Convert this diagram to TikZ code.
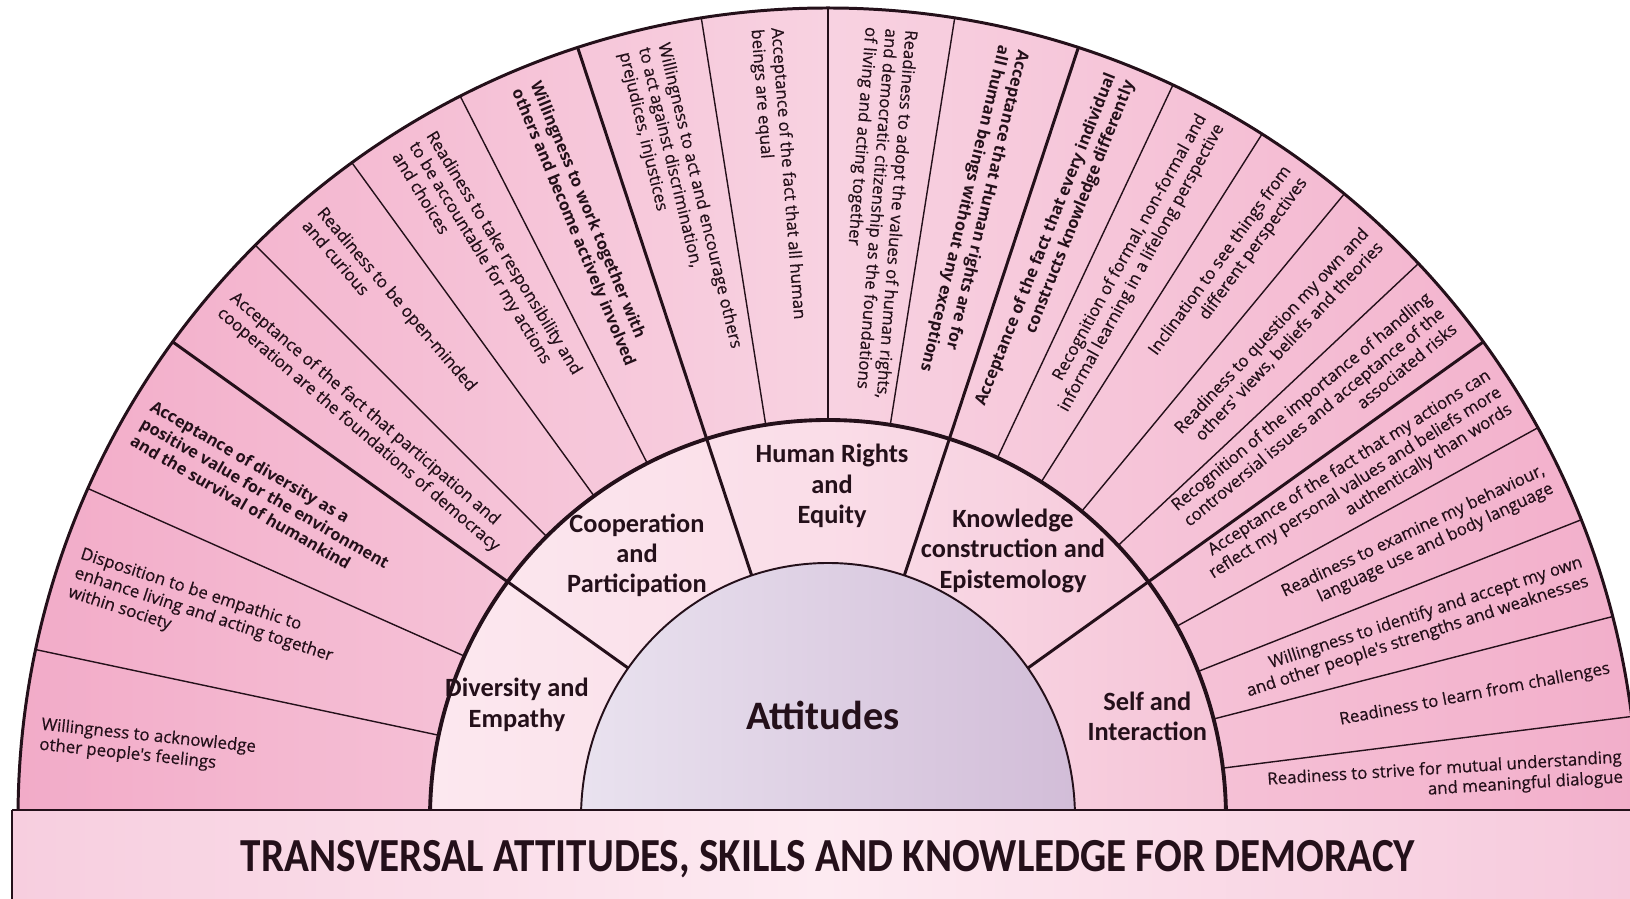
\documentclass[tikz,border=0pt]{standalone}
\usepackage{fontspec}
\setmainfont{Open Sans}
\newfontfamily\labelfont{Carlito}
\newfontfamily\itemfamily[FakeBold=0.5]{Open Sans}
\usepackage[usenames,dvipsnames,svgnames,table]{xcolor}
\usepackage{tikz}

\definecolor{inkdark}{HTML}{24101A}
\definecolor{outerL}{HTML}{F2ABC8}
\definecolor{outerM}{HTML}{F8D2E1}
\definecolor{outerR}{HTML}{F2AECA}
\definecolor{midL}{HTML}{FCE8EF}
\definecolor{midM}{HTML}{FADDE8}
\definecolor{midR}{HTML}{F5C4D7}
\definecolor{coreL}{HTML}{E9E2EF}
\definecolor{coreR}{HTML}{D2BDD8}
\definecolor{bannerL}{HTML}{F7CEDF}
\definecolor{bannerM}{HTML}{FDEAF1}
\definecolor{bannerR}{HTML}{F6C9DC}

\newcommand{\itemfont}{\itemfamily\fontsize{9.6}{11.4}\selectfont}
\newcommand{\itembold}{\fontsize{9.3}{11.4}\selectfont\bfseries}
\newcommand{\groupfont}{\labelfont\bfseries\fontsize{15}{17.2}\selectfont}

\begin{document}
\begin{tikzpicture}[x=0.02cm,y=0.02cm,
	rimline/.style={line width=1.7pt, inkdark},
	ringline/.style={line width=2.2pt, inkdark},
	coreline/.style={line width=1.1pt, inkdark},
	groupspoke/.style={line width=1.7pt, inkdark},
	itemspoke/.style={line width=0.8pt, inkdark},
	intext/.style={anchor=west, align=left, inner sep=1pt, text=inkdark, font=\itemfont},
	outtext/.style={anchor=east, align=right, inner sep=1pt, text=inkdark, font=\itemfont},
	grouplabel/.style={align=center, inner sep=1pt, text=inkdark, font=\groupfont}]
			\useasboundingbox (0,0) rectangle (1630,899);
			
			\shade[left color=bannerL, right color=bannerR, middle color=bannerM] (12,0) rectangle (1630,89);
			\node[text=inkdark, font=\labelfont\bfseries\fontsize{27}{32}\selectfont] (banner) at (828,40)
				{\scalebox{0.867}[1]{TRANSVERSAL ATTITUDES, SKILLS AND KNOWLEDGE FOR DEMORACY}};
			
			\begin{scope}[shift={(828,81)}]
				\begin{scope}
					\clip (-828,8) rectangle (802,818);
					\shade[left color=outerL, right color=outerR, middle color=outerM] (0,0) circle (810);
					\shade[left color=midL, right color=midR, middle color=midM] (0,0) circle (398);
					\shade[left color=coreL, right color=coreR] (0,0) ellipse (247 and 255);
					
					\draw[itemspoke] (168:398) -- (168:810);
					\draw[itemspoke] (156:398) -- (156:810);
					\draw[itemspoke] (135:398) -- (135:810);
					\draw[itemspoke] (126:398) -- (126:810);
					\draw[itemspoke] (117:398) -- (117:810);
					\draw[itemspoke] (99:398) -- (99:810);
					\draw[itemspoke] (90:398) -- (90:810);
					\draw[itemspoke] (81:398) -- (81:810);
					\draw[itemspoke] (64.8:398) -- (64.8:810);
					\draw[itemspoke] (57.6:398) -- (57.6:810);
					\draw[itemspoke] (50.4:398) -- (50.4:810);
					\draw[itemspoke] (43.2:398) -- (43.2:810);
					\draw[itemspoke] (28.8:398) -- (28.8:810);
					\draw[itemspoke] (21.6:398) -- (21.6:810);
					\draw[itemspoke] (14.4:398) -- (14.4:810);
					\draw[itemspoke] (7.2:398) -- (7.2:810);
					
					\draw[groupspoke] (144:247 and 255) -- (144:810);
					\draw[groupspoke] (108:247 and 255) -- (108:810);
					\draw[groupspoke] (72:247 and 255) -- (72:810);
					\draw[groupspoke] (36:247 and 255) -- (36:810);
					
					\draw[rimline] (0,0) circle (810);
					\draw[ringline] (0,0) circle (398);
					\draw[coreline] (0,0) ellipse (247 and 255);
				\end{scope}
				
				\node[intext, rotate=-6] (t1) at (174:794) {Willingness to acknowledge\\other people's feelings};
				\node[intext, rotate=-18] (t2) at (162:794) {Disposition to be empathic to\\enhance living and acting together\\within society};
				\node[intext, rotate=-30, font=\itembold] (t3) at (150:794) {Acceptance of diversity as a\\positive value for the environment\\and the survival of humankind};
				\node[intext, rotate=-40.5] (t4) at (139.5:794) {Acceptance of the fact that participation and\\cooperation are the foundations of democracy};
				\node[intext, rotate=-49.5] (t5) at (130.5:794) {Readiness to be open-minded\\and curious};
				\node[intext, rotate=-58.5] (t6) at (121.5:794) {Readiness to take responsibility and\\to be accountable for my actions\\and choices};
				\node[intext, rotate=-67.5, font=\itembold] (t7) at (112.5:794) {Willingness to work together with\\others and become actively involved};
				\node[intext, rotate=-76.5] (t8) at (103.5:794) {Willingness to act and encourage others\\to act against discrimination,\\prejudices, injustices};
				\node[intext, rotate=-85.5] (t9) at (94.5:794) {Acceptance of the fact that all human\\beings are equal};
				\node[intext, rotate=-94.5] (t10) at (85.5:794) {Readiness to adopt the values of human rights,\\and democratic citizenship as the foundations\\of living and acting together};
				\node[intext, rotate=-103.5, font=\itembold] (t11) at (76.5:794) {Acceptance that Human rights are for\\all human beings without any exceptions};
				
				\node[outtext, rotate=68.4, font=\itembold] (t12) at (68.4:798) {Acceptance of the fact that every individual\\constructs knowledge differently};
				\node[outtext, rotate=61.2] (t13) at (61.2:798) {Recognition of formal, non-formal and\\informal learning in a lifelong perspective};
				\node[outtext, rotate=54] (t14) at (54:798) {Inclination to see things from\\different perspectives};
				\node[outtext, rotate=46.8] (t15) at (46.8:798) {Readiness to question my own and\\others' views, beliefs and theories};
				\node[outtext, rotate=39.6] (t16) at (39.6:798) {Recognition of the importance of handling\\controversial issues and acceptance of the\\associated risks};
				\node[outtext, rotate=32.4] (t17) at (32.4:798) {Acceptance of the fact that my actions can\\reflect my personal values and beliefs more\\authentically than words};
				\node[outtext, rotate=25.2] (t18) at (25.2:798) {Readiness to examine my behaviour,\\language use and body language};
				\node[outtext, rotate=18] (t19) at (18:798) {Willingness to identify and accept my own\\and other people's strengths and weaknesses};
				\node[outtext, rotate=10.8] (t20) at (10.8:798) {Readiness to learn from challenges};
				\node[outtext, rotate=3.6] (t21) at (3.6:798) {Readiness to strive for mutual understanding\\and meaningful dialogue};
				
				\node[grouplabel] (diversity) at (160:331) {Diversity and\\Empathy};
				\node[grouplabel] (cooperation) at (126:325) {Cooperation\\and\\Participation};
				\node[grouplabel] (rights) at (89.3:332) {Human Rights\\and\\Equity};
				\node[grouplabel] (knowledge) at (55.3:325) {Knowledge\\construction and\\Epistemology};
				\node[grouplabel] (self) at (17.6:335) {Self and\\Interaction};
				\node[text=inkdark, font=\labelfont\bfseries\fontsize{23}{26}\selectfont] (attitudes) at (-5,103) {Attitudes};
			\end{scope}
			
			\draw[rimline] (12,89) -- (1630,89);
			\draw[rimline] (12,0) -- (12,89);
		\end{tikzpicture}
\end{document}
